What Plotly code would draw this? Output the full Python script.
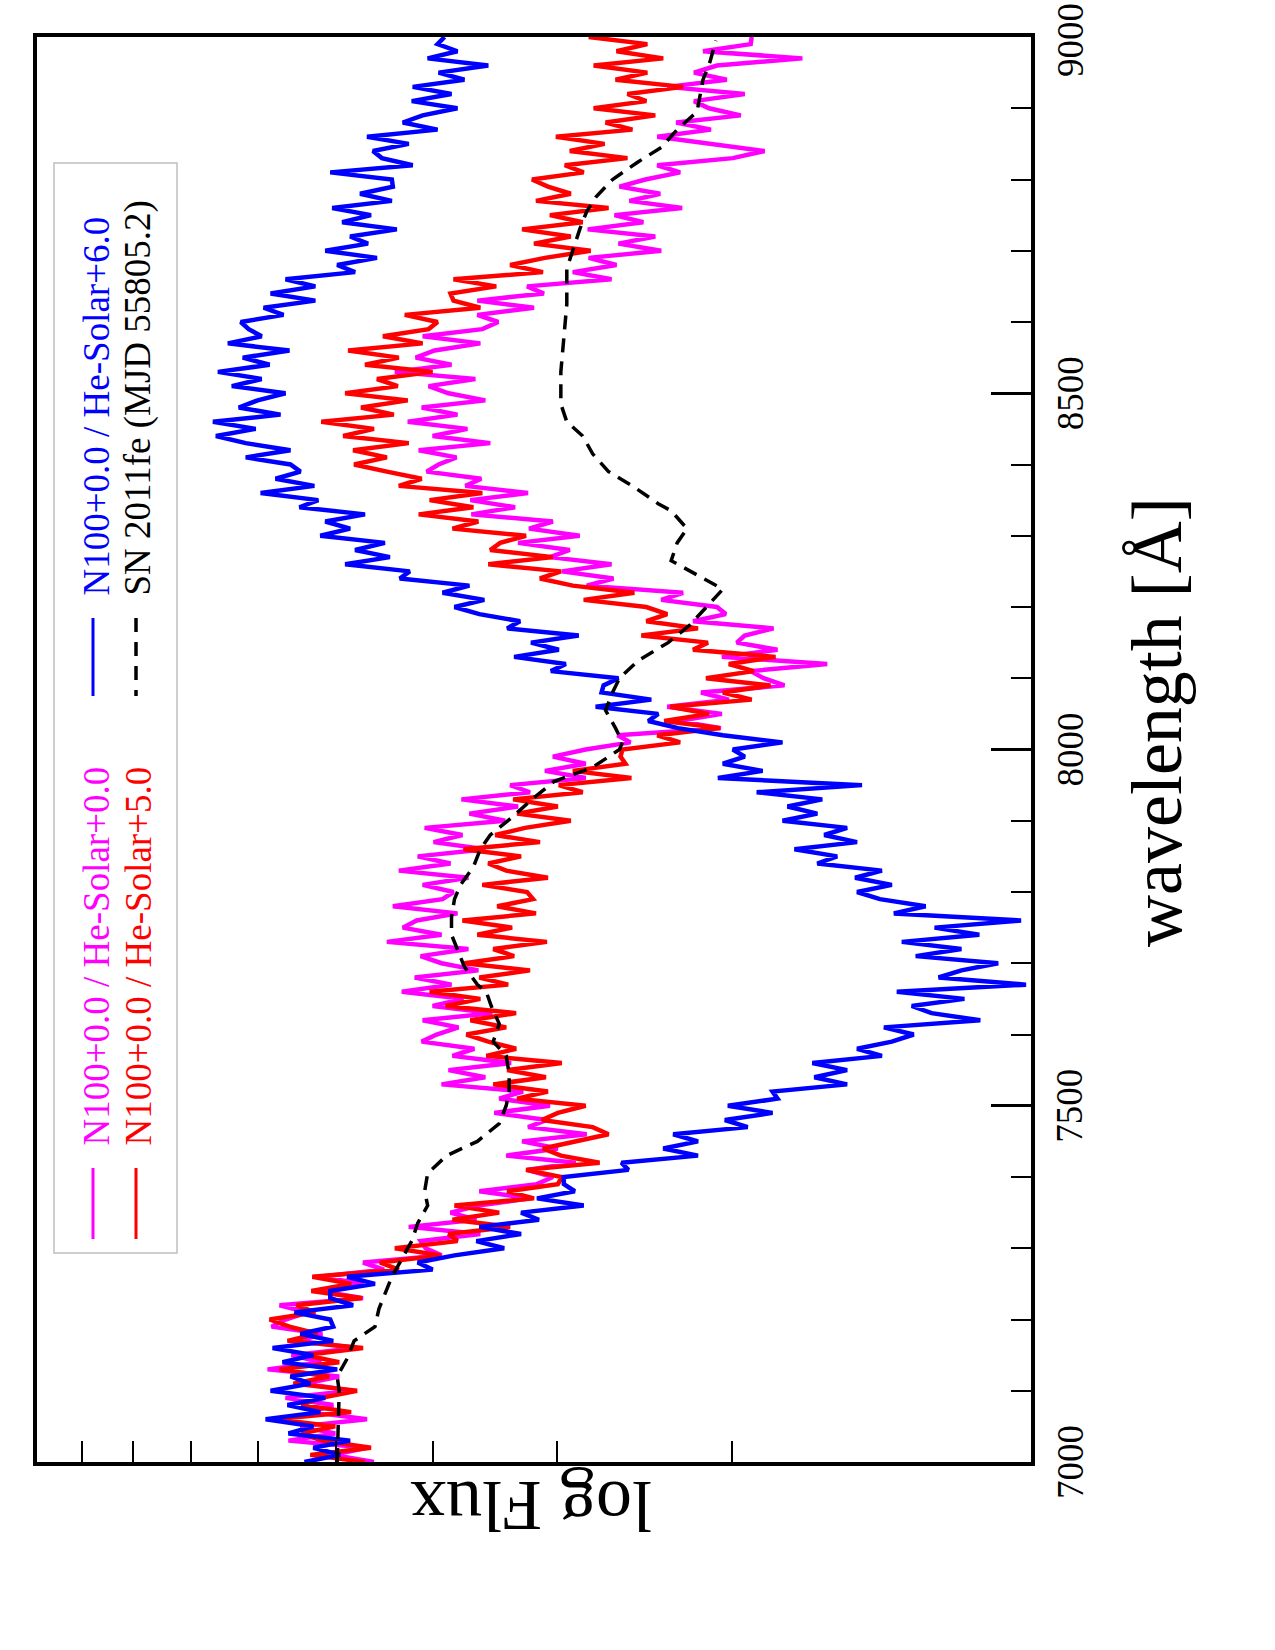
import math
import plotly.graph_objects as go

# ---------------- data ----------------
# model grid: 7000..9000 A, step 10 A
wavelength = list(range(7000, 9001, 10))

# log Flux (axis runs 0 .. 1 in log10 units, right -> left)
flux_he00 = [  # magenta: N100+0.0 / He-Solar+0.0
0.661,0.702,0.668,0.747,0.700,0.735,0.668,0.724,0.702,0.750,
0.684,0.730,0.696,0.768,0.714,0.744,0.678,0.736,0.713,0.764,
0.750,0.728,0.756,0.672,0.715,0.671,0.716,0.651,0.672,0.593,
0.609,0.614,0.554,0.626,0.558,0.584,0.556,0.504,0.555,0.497,
0.481,0.507,0.458,0.528,0.476,0.512,0.447,0.506,0.487,0.540,
0.484,0.535,0.511,0.593,0.549,0.586,0.523,0.582,0.560,0.613,
0.598,0.576,0.612,0.542,0.602,0.571,0.633,0.583,0.620,0.556,
0.593,0.614,0.566,0.648,0.593,0.632,0.618,0.577,0.642,0.592,
0.581,0.612,0.566,0.636,0.584,0.617,0.549,0.601,0.572,0.610,
0.529,0.565,0.516,0.573,0.504,0.524,0.448,0.489,0.448,0.481,
0.448,0.403,0.416,0.312,0.355,0.311,0.366,0.304,0.332,0.248,
0.269,0.282,0.205,0.311,0.255,0.296,0.288,0.259,0.340,0.307,
0.316,0.372,0.350,0.447,0.420,0.472,0.422,0.484,0.464,0.516,
0.454,0.505,0.481,0.563,0.519,0.564,0.506,0.569,0.553,0.608,
0.596,0.578,0.616,0.544,0.602,0.567,0.627,0.577,0.613,0.549,
0.586,0.606,0.559,0.640,0.583,0.619,0.600,0.554,0.612,0.552,
0.536,0.557,0.500,0.557,0.490,0.507,0.422,0.461,0.417,0.445,
0.372,0.415,0.378,0.446,0.390,0.419,0.351,0.404,0.373,0.414,
0.388,0.353,0.376,0.300,0.268,0.320,0.376,0.322,0.357,0.292,
0.324,0.339,0.288,0.366,0.306,0.339,0.316,0.230,0.330,0.282,
0.281]

flux_he50 = [  # red: N100+0.0 / He-Solar+5.0
0.670,0.725,0.664,0.713,0.734,0.700,0.761,0.684,0.734,0.714,
0.678,0.742,0.706,0.756,0.696,0.730,0.672,0.748,0.718,0.746,
0.766,0.720,0.739,0.673,0.724,0.684,0.723,0.636,0.655,0.594,
0.640,0.577,0.586,0.524,0.582,0.535,0.580,0.500,0.527,0.476,
0.472,0.508,0.434,0.473,0.491,0.458,0.425,0.441,0.492,0.476,
0.448,0.517,0.486,0.541,0.488,0.527,0.472,0.548,0.518,0.546,
0.568,0.528,0.564,0.518,0.589,0.554,0.605,0.526,0.555,0.504,
0.570,0.520,0.541,0.487,0.557,0.522,0.572,0.498,0.537,0.501,
0.507,0.552,0.486,0.528,0.546,0.513,0.571,0.494,0.539,0.509,
0.463,0.517,0.476,0.521,0.451,0.475,0.402,0.461,0.408,0.413,
0.411,0.353,0.376,0.313,0.369,0.324,0.363,0.281,0.310,0.262,
0.327,0.279,0.304,0.257,0.340,0.325,0.392,0.335,0.387,0.366,
0.387,0.450,0.399,0.461,0.494,0.473,0.546,0.481,0.544,0.534,
0.508,0.582,0.556,0.616,0.561,0.605,0.552,0.636,0.613,0.648,
0.681,0.648,0.682,0.626,0.692,0.661,0.714,0.641,0.674,0.627,
0.690,0.637,0.658,0.602,0.670,0.636,0.687,0.612,0.652,0.606,
0.597,0.630,0.554,0.581,0.584,0.538,0.581,0.491,0.524,0.489,
0.443,0.500,0.463,0.512,0.451,0.484,0.425,0.498,0.463,0.486,
0.502,0.450,0.469,0.406,0.464,0.429,0.478,0.401,0.428,0.378,
0.440,0.387,0.406,0.350,0.418,0.386,0.440,0.370,0.417,0.386,
0.445]

flux_he60 = [  # blue: N100+0.0 / He-Solar+6.0
0.731,0.695,0.722,0.685,0.747,0.722,0.770,0.715,0.748,0.710,
0.765,0.725,0.745,0.698,0.753,0.722,0.763,0.702,0.735,0.702,
0.705,0.741,0.682,0.705,0.705,0.660,0.688,0.602,0.617,0.580,
0.530,0.558,0.513,0.555,0.495,0.513,0.450,0.497,0.459,0.470,
0.470,0.405,0.412,0.335,0.370,0.335,0.360,0.285,0.308,0.260,
0.305,0.255,0.260,0.185,0.218,0.185,0.220,0.150,0.175,0.140,
0.118,0.148,0.051,0.100,0.120,0.067,0.135,0.005,0.093,0.070,
0.033,0.116,0.070,0.130,0.052,0.097,0.010,0.138,0.106,0.152,
0.175,0.140,0.177,0.150,0.215,0.195,0.238,0.175,0.208,0.185,
0.250,0.215,0.245,0.210,0.276,0.170,0.315,0.270,0.310,0.288,
0.300,0.250,0.310,0.355,0.385,0.375,0.438,0.382,0.432,0.430,
0.415,0.483,0.468,0.520,0.475,0.503,0.455,0.527,0.514,0.555,
0.580,0.550,0.592,0.565,0.635,0.625,0.690,0.645,0.680,0.650,
0.715,0.685,0.710,0.670,0.736,0.717,0.775,0.721,0.760,0.735,
0.745,0.790,0.745,0.790,0.820,0.780,0.823,0.755,0.797,0.778,
0.750,0.804,0.774,0.818,0.766,0.793,0.746,0.808,0.774,0.787,
0.795,0.752,0.772,0.720,0.765,0.720,0.750,0.680,0.698,0.658,
0.710,0.667,0.685,0.638,0.693,0.664,0.703,0.643,0.675,0.642,
0.643,0.705,0.622,0.653,0.662,0.626,0.668,0.597,0.632,0.612,
0.577,0.623,0.583,0.622,0.570,0.596,0.546,0.607,0.577,0.597,
0.590]

# SN 2011fe (MJD 55805.2) observed spectrum
sn_wavelength = [
7000,7050,7100,7120,7145,7170,7190,7215,7240,7260,7285,7310,7335,7360,
7380,7405,7430,7450,7475,7500,7520,7545,7570,7590,7615,7640,7660,7670,
7695,7720,7740,7765,7790,7810,7835,7860,7880,7905,7930,7955,7975,8000,
8010,8030,8055,8080,8100,8125,8150,8175,8195,8225,8245,8265,8290,8310,
8335,8345,8370,8390,8415,8440,8460,8485,8530,8580,8625,8675,8705,8730,
8755,8775,8800,8825,8845,8870,8895,8915,8940,8965,8995]
sn_flux = [
0.698,0.697,0.696,0.698,0.688,0.681,0.660,0.656,0.649,0.643,0.633,0.623,0.617,0.607,
0.610,0.607,0.588,0.557,0.535,0.528,0.525,0.525,0.528,0.541,0.535,0.543,0.548,0.557,
0.570,0.577,0.583,0.583,0.580,0.574,0.561,0.554,0.544,0.522,0.502,0.480,0.441,0.414,
0.411,0.418,0.428,0.421,0.414,0.395,0.365,0.343,0.330,0.310,0.336,0.362,0.356,0.346,
0.362,0.375,0.401,0.425,0.441,0.451,0.467,0.473,0.473,0.470,0.467,0.467,0.460,0.454,
0.447,0.438,0.421,0.395,0.372,0.356,0.336,0.333,0.330,0.323,0.317]

series_names = ["N100+0.0 / He-Solar+0.0", "N100+0.0 / He-Solar+5.0",
                "N100+0.0 / He-Solar+6.0", "SN 2011fe (MJD 55805.2)"]
series_colors = ["#ff00ff", "#ff0000", "#0000ff", "#000000"]

wl_ticks = [7000, 7500, 8000, 8500, 9000]
wl_ticklabels = ["7000", "7500", "8000", "8500", "9000"]
flux_minor_ticks = [2, 3, 4, 5, 6, 7, 8, 9]

# ---------------- layout geometry (pixels) ----------------
W, H = 1275, 1650
L, R, T, B = 37, 1031, 37, 1462
FONT = "Liberation Serif"

def px(xp):
    return (xp - L) / (R - L)

def py(yp):
    return (B - yp) / (B - T)

flux_tickvals = [math.log10(v) for v in flux_minor_ticks]

fig = go.Figure()
model_series = [flux_he00, flux_he50, flux_he60]
for i, ys in enumerate(model_series):
    fig.add_trace(go.Scatter(x=ys, y=wavelength, mode="lines",
                             line=dict(color=series_colors[i], width=4.5),
                             name=series_names[i], showlegend=False))
fig.add_trace(go.Scatter(x=sn_flux, y=sn_wavelength, mode="lines",
                         line=dict(color="black", width=3.5, dash="14px,9px"),
                         name=series_names[3], showlegend=False))

fig.update_layout(
    template="none",
    width=W, height=H,
    margin=dict(l=L, r=W - R, t=T, b=H - B, pad=0, autoexpand=False),
    paper_bgcolor="white", plot_bgcolor="white",
    font=dict(family=FONT, color="black"),
    showlegend=False,
    xaxis=dict(range=[1, 0], showgrid=False, zeroline=False, automargin=False,
               showline=True, linecolor="black", linewidth=3.5, mirror=True,
               ticks="inside", ticklen=21, tickwidth=2, tickcolor="black",
               tickmode="array", tickvals=flux_tickvals, showticklabels=False),
    yaxis=dict(range=[7000, 9000], side="right", showgrid=False, zeroline=False,
               automargin=False,
               showline=True, linecolor="black", linewidth=3.5, mirror=True,
               ticks="inside", ticklen=40, tickwidth=3, tickcolor="black",
               tickmode="array", tickvals=wl_ticks, showticklabels=False,
               minor=dict(dtick=100, tick0=7000, ticks="inside", ticklen=20,
                          tickwidth=2, tickcolor="black", showgrid=False)),
)

annotations = [
    dict(text="wavelength [Å]", x=px(1157), y=py(722), textangle=-90,
         font=dict(family=FONT, size=72, color="black")),
    dict(text="log Flux", x=px(531), y=py(1506), textangle=180,
         font=dict(family=FONT, size=72, color="black")),
    # legend labels
    dict(text=series_names[0], x=px(96), y=py(1148), textangle=-90,
         yanchor="bottom", font=dict(family=FONT, size=37, color=series_colors[0])),
    dict(text=series_names[1], x=px(138), y=py(1148), textangle=-90,
         yanchor="bottom", font=dict(family=FONT, size=37, color=series_colors[1])),
    dict(text=series_names[2], x=px(96), y=py(598), textangle=-90,
         yanchor="bottom", font=dict(family=FONT, size=37, color=series_colors[2])),
    dict(text=series_names[3], x=px(138), y=py(598), textangle=-90,
         yanchor="bottom", font=dict(family=FONT, size=37, color=series_colors[3])),
]
for a in annotations:
    a.update(xref="paper", yref="paper", showarrow=False)
    a.setdefault("xanchor", "center")
    a.setdefault("yanchor", "middle")

# wavelength tick labels (rotated, placed at the axis values)
for v, t in zip(wl_ticks, wl_ticklabels):
    a = dict(text=t, x=px(1070), xref="paper", y=v, yref="y", textangle=-90,
             showarrow=False, xanchor="center", yanchor="middle",
             font=dict(family=FONT, size=37, color="black"))
    if v == max(wl_ticks):
        # keep the top label inside the page
        a.update(yanchor="top", yshift=36)
    annotations.append(a)
fig.update_layout(annotations=annotations)

shapes = [
    dict(type="rect", x0=px(54), x1=px(177), y0=py(1253), y1=py(163),
         line=dict(color="#c0c0c0", width=1.5), fillcolor="rgba(0,0,0,0)"),
    dict(type="line", x0=px(93), x1=px(93), y0=py(1168), y1=py(1239),
         line=dict(color=series_colors[0], width=3)),
    dict(type="line", x0=px(136), x1=px(136), y0=py(1168), y1=py(1239),
         line=dict(color=series_colors[1], width=3)),
    dict(type="line", x0=px(93), x1=px(93), y0=py(618), y1=py(696),
         line=dict(color=series_colors[2], width=3)),
    dict(type="line", x0=px(136), x1=px(136), y0=py(618), y1=py(696),
         line=dict(color=series_colors[3], width=3.5, dash="14px,10px")),
]
for s in shapes:
    s.update(xref="paper", yref="paper")
fig.update_layout(shapes=shapes)

fig.write_html("out.html")
